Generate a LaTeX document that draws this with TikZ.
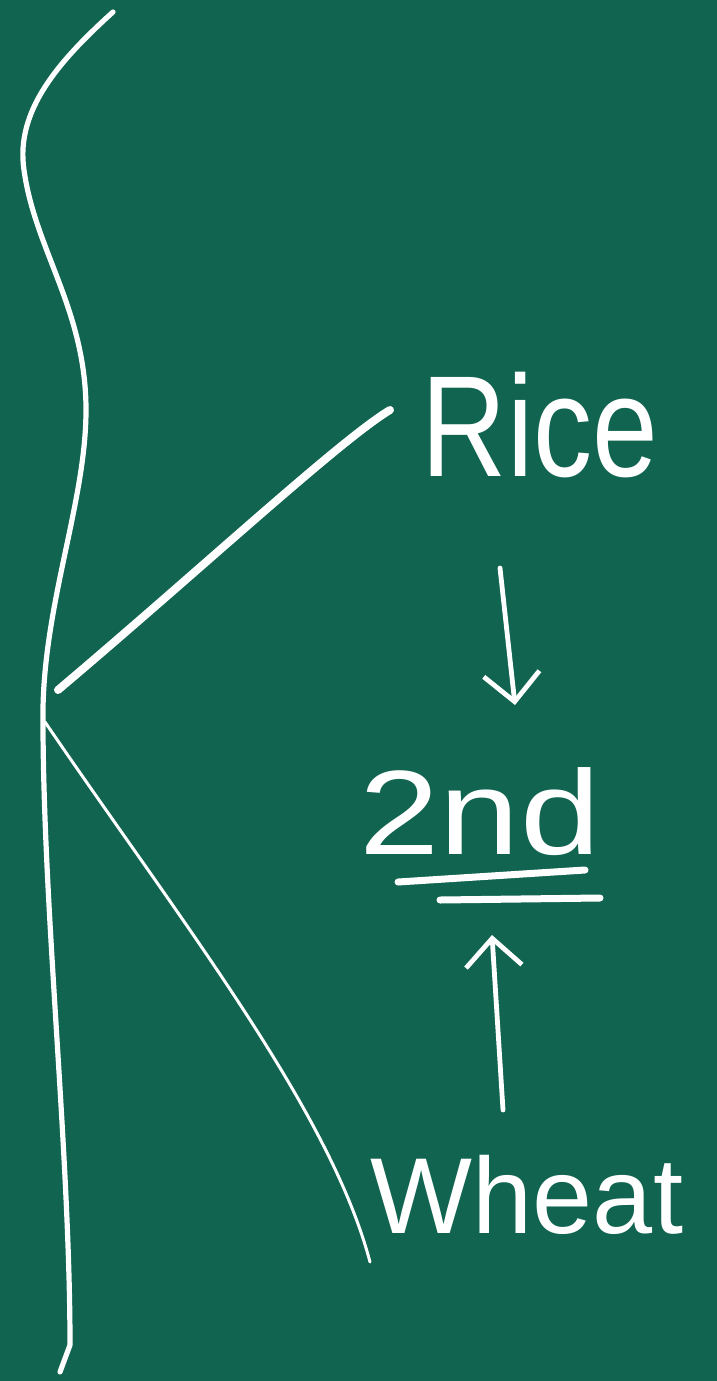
\documentclass[tikz,border=0pt]{standalone}
\usepackage{fontspec}
\setmainfont{Liberation Sans}
\usetikzlibrary{arrows.meta}
\definecolor{board}{RGB}{16,100,80}
\begin{document}
\begin{tikzpicture}[x=0.5pt,y=-0.5pt,
  chalk/.style={draw=white, line cap=round, line join=round},
  word/.style={text=white, inner sep=0pt, anchor=center},
  chalkarrow/.style={chalk, line width=2.4pt, -{Straight Barb[length=14pt,width=28pt,line width=2.4pt]}}]
\fill[board] (0,0) rectangle (717,1381);
\useasboundingbox (0,0) rectangle (717,1381);
% main curved stem
\coordinate (top) at (113,12);
\coordinate (apex) at (43,708);
\coordinate (bot) at (60,1372);
\draw[chalk, line width=2.6pt] (top) .. controls (60,60) and (15,110) .. (24,170)
  .. controls (35,250) and (86,310) .. (86,410)
  .. controls (86,500) and (45,600) .. (apex)
  .. controls (42,900) and (70,1150) .. (70,1345) -- (bot);
% branches
\coordinate (upstart) at (58,690);
\coordinate (upend) at (390,410);
\coordinate (lowstart) at (45,722);
\coordinate (lowend) at (370,1262);
\draw[chalk, line width=4pt] (upstart) .. controls (200,570) and (340,440) .. (upend);
\draw[chalk, line width=1.5pt] (lowstart) .. controls (180,920) and (330,1110) .. (lowend);
% words
\node[word, font=\fontsize{72}{72}\selectfont, xscale=0.82] (rice) at (540,425) {Rice};
\node[word, font=\fontsize{60}{60}\selectfont, xscale=1.2] (second) at (480,812) {2nd};
\node[word, font=\fontsize{54}{54}\selectfont] (wheat) at (527,1195) {Wheat};
% double underline
\coordinate (u1a) at (398,882);
\coordinate (u1b) at (585,870);
\coordinate (u2a) at (440,900);
\coordinate (u2b) at (600,898);
\draw[chalk, line width=3.5pt] (u1a) -- (u1b);
\draw[chalk, line width=3.5pt] (u2a) -- (u2b);
% arrows
\coordinate (a1s) at (500,568);
\coordinate (a1e) at (515,705);
\coordinate (a2s) at (503,1110);
\coordinate (a2e) at (492,935);
\draw[chalkarrow] (a1s) -- (a1e);
\draw[chalkarrow] (a2s) -- (a2e);
\end{tikzpicture}
\end{document}
